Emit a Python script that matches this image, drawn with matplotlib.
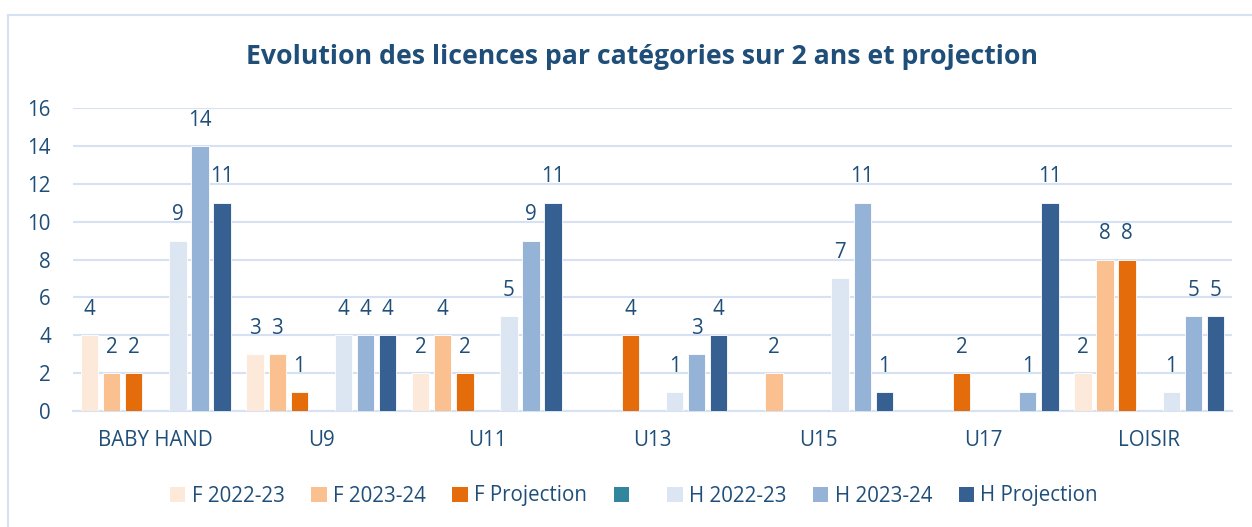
import numpy as np
import matplotlib.pyplot as plt
from matplotlib.patches import Rectangle, Patch

categories = ['BABY HAND', 'U9', 'U11', 'U13', 'U15', 'U17', 'LOISIR']
nan = np.nan
f_2022 = [4, 3, 2, nan, nan, nan, 2]
f_2023 = [2, 3, 4, nan, 2, nan, 8]
f_proj = [2, 1, 2, 4, nan, 2, 8]
empty_series = [nan] * 7
h_2022 = [9, 4, 5, 1, 7, nan, 1]
h_2023 = [14, 4, 9, 3, 11, 1, 5]
h_proj = [11, 4, 11, 4, 1, 11, 5]

series_names = ['F 2022-23', 'F 2023-24', 'F Projection', ' ', 'H 2022-23', 'H 2023-24', 'H Projection']
series_vals = [f_2022, f_2023, f_proj, empty_series, h_2022, h_2023, h_proj]
colors = ['#FDE9D9', '#FAC090', '#E46C0A', '#31859C', '#DCE6F2', '#95B3D7', '#376092']

txt_col = '#1F4E79'
grid_col = '#D6E2F3'
font = 'Open Sans'
fs = 14.8

fig = plt.figure(figsize=(12.52, 5.27), dpi=100)
# chart border
fig.patches.append(Rectangle((8/1252, -0.05), 1.2, 1 - 15/527 + 0.05, transform=fig.transFigure,
                             fill=False, edgecolor=grid_col, lw=1.5))
ax = fig.add_axes([73/1252, 1 - 411/527, (1232 - 73)/1252, (411 - 108)/527])

x = np.arange(len(categories))
pitch = 0.1333
width = 0.105
for i, (vals, c) in enumerate(zip(series_vals, colors)):
    pos = x + (i - 3) * pitch
    bars = ax.bar(pos, vals, width=width, color=c, edgecolor='white', linewidth=0.6, zorder=3)
    labels = ['' if np.isnan(v) else '%d' % v for v in vals]
    ax.bar_label(bars, labels=labels, padding=11, color=txt_col, fontsize=fs, family=font)

ax.set_xlim(-0.5, len(categories) - 0.5)
ax.set_ylim(0, 16)
ax.set_yticks(range(0, 17, 2))
ax.set_xticks(x)
ax.set_xticklabels(categories)
ax.grid(axis='y', color=grid_col, lw=1.5, zorder=0)
for s in ['top', 'right', 'left']:
    ax.spines[s].set_visible(False)
ax.spines['bottom'].set_color(grid_col)
ax.spines['bottom'].set_linewidth(1.5)
ax.tick_params(length=0, colors=txt_col, labelsize=fs)
ax.tick_params(axis='y', pad=16)
ax.tick_params(axis='x', pad=14)
for t in ax.get_xticklabels() + ax.get_yticklabels():
    t.set_family(font)

fig.text(642/1252, 1 - 57/527, 'Evolution des licences par catégories sur 2 ans et projection',
         ha='center', va='center', color=txt_col, fontsize=19.2, fontweight='bold', family=font)

handles = [Patch(facecolor=c, edgecolor='none') for c in colors]
fig.legend(handles, series_names, loc='center', bbox_to_anchor=(634/1252, 1 - 496/527), ncol=7,
           frameon=False, handlelength=0.75, handleheight=0.75, handletextpad=0.3, columnspacing=1.3,
           prop={'family': font, 'size': fs}, labelcolor=txt_col)

fig.savefig('out.png', dpi=100)
